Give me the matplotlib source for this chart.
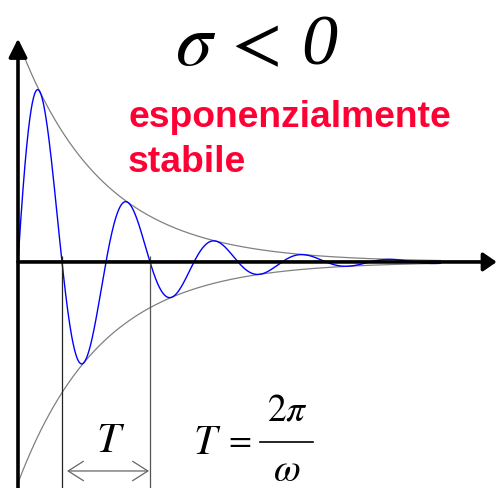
import numpy as np
import matplotlib.pyplot as plt

plt.rcParams['mathtext.fontset'] = 'stix'

# parametri (t in unita di periodo T)
sigma = -1.05          # smorzamento
period = 1.0           # T
amplitude = 1.0
t_end = 4.8
omega = 2 * np.pi / period

label_lines = ['esponenzialmente', 'stabile']
marks_t = [0.5 * period, 1.5 * period]   # linee verticali sul periodo

t = np.linspace(0, t_end, 1500)
env = amplitude * np.exp(sigma * t)
resp = env * np.sin(omega * t)

fig = plt.figure(figsize=(4.97, 4.89), dpi=100)
ax = fig.add_axes([0, 0, 1, 1])
ax.set_xlim(-0.2045, 5.443)
ax.set_ylim(-1.023, 1.19)
ax.axis('off')

# assi con frecce
ax.annotate('', xy=(0, 1.01), xytext=(0, -1.03),
            arrowprops=dict(arrowstyle='-|>,head_length=1.1,head_width=0.55',
                            lw=2.6, color='k', mutation_scale=10,
                            shrinkA=0, shrinkB=0))
ax.annotate('', xy=(5.44, 0), xytext=(0, 0),
            arrowprops=dict(arrowstyle='-|>,head_length=0.8,head_width=0.55',
                            lw=2.6, color='k', mutation_scale=10,
                            shrinkA=0, shrinkB=0))

# inviluppi e risposta
ax.plot(t, env, color='#808080', lw=0.9)
ax.plot(t, -env, color='#808080', lw=0.9)
ax.plot(t, resp, color='#0000ff', lw=1.0)

# linee del periodo
ax.vlines(marks_t[0], -1.1, 0.027, color='#222222', lw=0.9)
ax.vlines(marks_t[1], -1.1, 0.027, color='#555555', lw=0.9)
ax.annotate('', xy=(marks_t[0] + 0.057, -0.946), xytext=(marks_t[1] - 0.011, -0.946),
            arrowprops=dict(arrowstyle='<->,head_length=1.1,head_width=0.7',
                            lw=0.9, color='#666666', mutation_scale=10,
                            shrinkA=0, shrinkB=0))
ax.text(1.057, -0.855, r'$T$', fontsize=31, ha='center', va='baseline')

# formula T = 2pi/omega
ax.text(1.989, -0.864, r'$T$', fontsize=30, ha='left', va='baseline')
ax.text(2.5, -0.80, r'$=$', fontsize=24, ha='center', va='center')
ax.plot([2.75, 3.352], [-0.814, -0.814], color='k', lw=1.2)
ax.text(3.057, -0.715, r'$2\pi$', fontsize=27, ha='center', va='baseline')
ax.text(3.057, -0.985, r'$\omega$', fontsize=28, ha='center', va='baseline')

# titolo e scritta rossa
ax.text(1.784, 0.896, r'$\sigma\,<$', fontsize=53, ha='left', va='baseline')
ax.text(3.22, 0.896, '0', fontsize=52, style='italic',
        family='Liberation Serif', ha='left', va='baseline')
ax.text(1.25, 0.615, label_lines[0], fontsize=26.8, color='#ff0035',
        fontweight='bold', family='Liberation Sans', va='baseline')
ax.text(1.25, 0.412, label_lines[1], fontsize=26.8, color='#ff0035',
        fontweight='bold', family='Liberation Sans', va='baseline')

fig.savefig('out.png', dpi=100)
